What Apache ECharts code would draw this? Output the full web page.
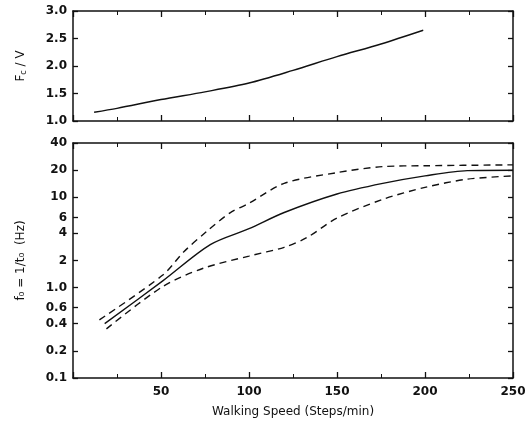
<!DOCTYPE html>
<html><head><meta charset="utf-8">
<script src="https://cdn.jsdelivr.net/npm/echarts@6/dist/echarts.min.js"></script>
<style>html,body{margin:0;padding:0;background:#fff}#c{width:527px;height:428px}</style>
</head><body><div id="c"></div>
<script>
// Top panel: Fc / V
const fcSpeed = [12, 25, 50, 75, 100, 125, 150, 175, 199];
const fcValue = [1.16, 1.23, 1.39, 1.53, 1.69, 1.92, 2.17, 2.40, 2.65];
// Bottom panel: f0 (Hz)
const midSpeed = [18, 51, 78, 100, 120, 150, 176, 200, 224, 250];
const midValue = [0.40, 1.19, 3.0, 4.5, 6.8, 10.9, 14.3, 17.3, 19.8, 20];
const upSpeed = [15, 51, 63, 76, 89, 100, 120, 150, 176, 200, 250];
const upValue = [0.44, 1.38, 2.5, 4.2, 6.7, 8.6, 14.3, 18.8, 21.9, 22.4, 22.9];
const loSpeed = [19, 51, 74, 100, 120, 133, 150, 176, 200, 224, 250];
const loValue = [0.35, 1.03, 1.64, 2.24, 2.8, 3.6, 5.9, 9.5, 12.9, 15.9, 17.3];
const topTicks = [1.0, 1.5, 2.0, 2.5, 3.0];
const logTicks = [0.1, 0.2, 0.4, 0.6, 1, 2, 4, 6, 10, 20, 40];

const zip = (a, b) => a.map((v, i) => [v, b[i]]);
const font = 'DejaVu Sans';
const INK = '#111';
function lbl(extra) {
  return Object.assign({ color: INK, fontFamily: font, fontSize: 12, fontWeight: 'bold' }, extra);
}
function line() { return { show: true, onZero: false, lineStyle: { color: INK, width: 1.5 } }; }
function tick(len, extra) {
  return Object.assign({ show: true, inside: true, length: len, lineStyle: { color: INK, width: 1.3 } }, extra || {});
}

function xAx(grid, pos, labels) {
  return {
    type: 'value', gridIndex: grid, position: pos, min: 0, max: 250, interval: 50,
    axisLine: line(),
    axisTick: tick(6),
    minorTick: { show: true, splitNumber: 2, length: 4 },
    splitLine: { show: false },
    axisLabel: labels ? lbl({ show: true, margin: 8, formatter: v => v === 0 ? '' : String(v) }) : { show: false },
    name: labels ? 'Walking Speed (Steps/min)' : '', nameLocation: 'middle', nameGap: 28,
    nameTextStyle: { color: INK, fontFamily: font, fontSize: 12 }
  };
}

const option = {
  animation: false,
  backgroundColor: '#fff',
  grid: [
    { left: 73, top: 11, width: 440, height: 110, outerBoundsMode: 'none' },
    { left: 73, top: 143, width: 440, height: 235, outerBoundsMode: 'none' }
  ],
  xAxis: [xAx(0, 'bottom', false), xAx(0, 'top', false), xAx(1, 'bottom', true), xAx(1, 'top', false)],
  yAxis: [
    {
      type: 'value', gridIndex: 0, position: 'left', min: 1, max: 3, interval: 0.5,
      axisLine: line(), axisTick: tick(5), splitLine: { show: false },
      axisLabel: lbl({ margin: 6, formatter: v => v.toFixed(1) }),
      name: '{a|F}{s|c}{a| / V}', nameLocation: 'middle', nameGap: 45,
      nameTextStyle: { rich: { a: { fontFamily: font, fontSize: 12, color: INK },
        s: { fontFamily: font, fontSize: 8, color: INK, verticalAlign: 'bottom', padding: [6, 0, 0, 0] } } }
    },
    {
      type: 'value', gridIndex: 0, position: 'right', min: 1, max: 3, interval: 0.5,
      axisLine: line(), axisTick: tick(5), splitLine: { show: false }, axisLabel: { show: false }
    },
    {
      type: 'log', gridIndex: 1, position: 'left', min: 0.1, max: 40, logBase: 10,
      axisLine: line(), axisTick: tick(5, { customValues: logTicks }),
      splitLine: { show: false },
      axisLabel: lbl({ margin: 6, customValues: logTicks,
        formatter: v => (Math.abs(v - 1) < 1e-9 ? '1.0' : String(+Number(v).toPrecision(2))) }),
      name: 'f₀ = 1/t₀  (Hz)', nameLocation: 'middle', nameGap: 46,
      nameTextStyle: { color: INK, fontFamily: font, fontSize: 12 }
    },
    {
      type: 'log', gridIndex: 1, position: 'right', min: 0.1, max: 40, logBase: 10,
      axisLine: line(), axisTick: tick(5, { customValues: logTicks }),
      splitLine: { show: false },
      axisLabel: { show: false }
    }
  ],
  series: [
    { type: 'line', xAxisIndex: 0, yAxisIndex: 0, data: zip(fcSpeed, fcValue), smooth: 0.3,
      showSymbol: false, lineStyle: { color: INK, width: 1.4 } },
    { type: 'line', xAxisIndex: 2, yAxisIndex: 2, data: zip(midSpeed, midValue), smooth: 0.3,
      showSymbol: false, lineStyle: { color: INK, width: 1.4 } },
    { type: 'line', xAxisIndex: 2, yAxisIndex: 2, data: zip(upSpeed, upValue), smooth: 0.3,
      showSymbol: false, lineStyle: { color: INK, width: 1.4, type: [7, 5] } },
    { type: 'line', xAxisIndex: 2, yAxisIndex: 2, data: zip(loSpeed, loValue), smooth: 0.3,
      showSymbol: false, lineStyle: { color: INK, width: 1.4, type: [7, 5] } }
  ]
};
echarts.init(document.getElementById('c')).setOption(option);
</script></body></html>
